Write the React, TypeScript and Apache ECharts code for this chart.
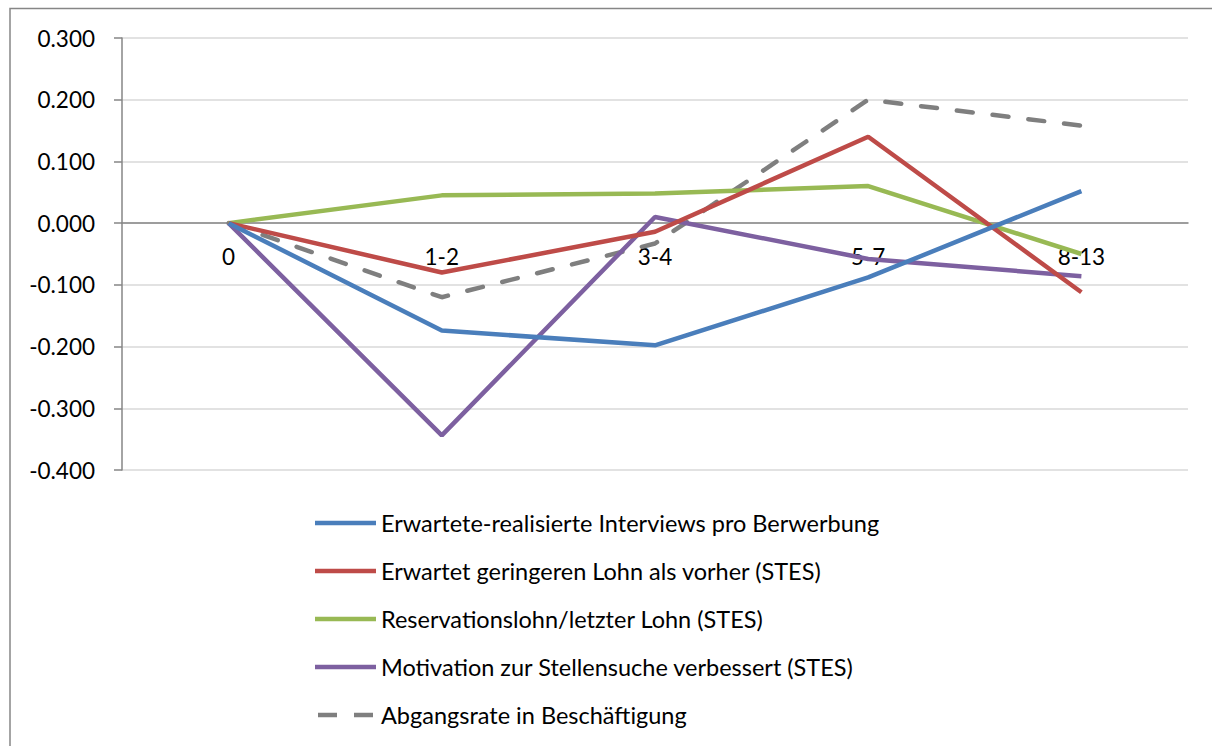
import React, { useEffect, useRef } from "react";
import * as echarts from "echarts";

const categories = ["0", "1-2", "3-4", "5-7", "8-13"];
const seriesNames = [
  "Erwartete-realisierte Interviews pro Berwerbung",
  "Erwartet geringeren Lohn als vorher (STES)",
  "Reservationslohn/letzter Lohn (STES)",
  "Motivation zur Stellensuche verbessert (STES)",
  "Abgangsrate in Beschäftigung",
];
const interviews = [0, -0.174, -0.198, -0.088, 0.052];
const lowerWage = [0, -0.08, -0.014, 0.14, -0.112];
const reservationWage = [0, 0.045, 0.048, 0.06, -0.05];
const motivation = [0, -0.344, 0.01, -0.058, -0.086];
const exitRate = [0, -0.12, -0.033, 0.2, 0.158];
const colors = ["#4a7ebb", "#be4b48", "#98b954", "#7d60a0", "#7f7f7f"];

export default function App() {
  const ref = useRef<HTMLDivElement>(null);
  useEffect(() => {
    document.body.style.margin = "0";
    const chart = echarts.init(ref.current!, null, { renderer: "svg" });
    const font = "Lato";
    const fs = 22.5;
    const values = [interviews, lowerWage, reservationWage, motivation, exitRate];
    const top = 38;
    const bottom = 276;
    const plotH = 746 - top - bottom;
    const zeroOffset = -(plotH * 4) / 7;
    chart.setOption({
      animation: false,
      backgroundColor: "#ffffff",
      graphic: [
        {
          type: "rect",
          shape: { x: 10, y: 8.5, width: 1400, height: 900 },
          style: { fill: "none", stroke: "#868686", lineWidth: 1.5 },
          z: 100,
        },
      ],
      grid: { left: 122, right: 24, top, bottom },
      legend: {
        orient: "vertical",
        left: 315,
        top: 511,
        padding: 0,
        itemWidth: 61,
        itemHeight: 4.5,
        itemGap: 24,
        textStyle: { fontFamily: font, fontSize: 23.5, color: "#000", lineHeight: 24 },
        data: seriesNames.map((name, i) => ({
          name,
          icon: i === 4 ? "path://M0,0h19v4.5h-19z M36,0h19v4.5h-19z" : "rect",
        })),
      },
      xAxis: {
        type: "category",
        data: categories,
        boundaryGap: true,
        offset: zeroOffset,
        axisLine: { onZero: false, lineStyle: { color: "#868686", width: 1.5 } },
        axisTick: { show: false },
        axisLabel: { fontFamily: font, fontSize: fs, color: "#000", margin: 22 },
        splitLine: { show: false },
      },
      yAxis: {
        type: "value",
        min: -0.4,
        max: 0.3,
        interval: 0.1,
        axisLine: { show: true, lineStyle: { color: "#868686", width: 1.5 } },
        axisTick: { show: true, inside: false, length: 8, lineStyle: { color: "#868686", width: 1.5 } },
        axisLabel: {
          fontFamily: font,
          fontSize: fs,
          color: "#000",
          margin: 27,
          formatter: (v: number) => v.toFixed(3),
        },
        splitLine: { show: true, lineStyle: { color: "#d9d9d9", width: 1.5 } },
      },
      series: seriesNames.map((name, i) => ({
        name,
        type: "line",
        data: values[i],
        symbol: "none",
        color: colors[i],
        lineStyle: {
          color: colors[i],
          width: 4.5,
          type: i === 4 ? [16, 20] : "solid",
          cap: i === 4 ? "round" : "butt",
        },
        z: 10 - i,
      })),
    });
    return () => chart.dispose();
  }, []);
  return <div ref={ref} style={{ width: 1212, height: 746 }} />;
}
